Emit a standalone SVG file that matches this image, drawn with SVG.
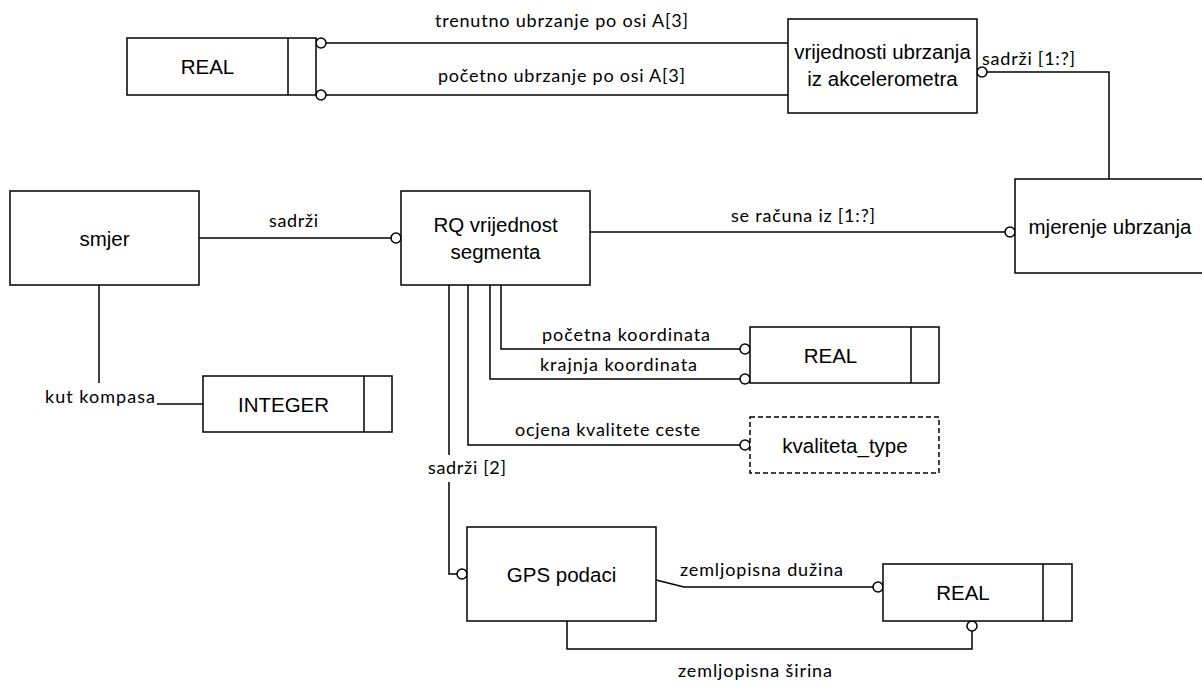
<svg xmlns="http://www.w3.org/2000/svg" width="1202" height="686" viewBox="0 0 1202 686">
<style>
.box{fill:#fff;stroke:#000;stroke-width:1.5}
.dash{fill:#fff;stroke:#000;stroke-width:1.5;stroke-dasharray:5 3}
.ln{fill:none;stroke:#000;stroke-width:1.5}
.o{fill:#fff;stroke:#000;stroke-width:1.5}
.nt{font-family:"Liberation Sans",Arial,sans-serif;font-size:20.5px;fill:#000;text-anchor:middle}
.lb{font-family:Lato,"Liberation Sans",sans-serif;font-size:18px;fill:#000}
</style>
<rect width="1202" height="686" fill="#fff"/>
<g id="connectors">
  <path class="ln" d="M326,43 H788"/>
  <path class="ln" d="M326,95 H788"/>
  <path class="ln" d="M987,72 H1109 V179"/>
  <path class="ln" d="M199,238 H391"/>
  <path class="ln" d="M590,232 H1005"/>
  <path class="ln" d="M99,285 V383"/>
  <path class="ln" d="M157,404 H203"/>
  <path class="ln" d="M501,285 V349 H740"/>
  <path class="ln" d="M490,285 V379 H740"/>
  <path class="ln" d="M468,285 V445 H740"/>
  <path class="ln" d="M449,285 V455 M449,482 V574 H457"/>
  <path class="ln" d="M656,580 L684,587 H873"/>
  <path class="ln" d="M567,621 V649 H972 V631"/>
  <circle class="o" cx="321" cy="43" r="5"/>
  <circle class="o" cx="321" cy="95" r="5"/>
  <circle class="o" cx="982" cy="72" r="5"/>
  <circle class="o" cx="396" cy="238" r="5"/>
  <circle class="o" cx="1010" cy="232" r="5"/>
  <circle class="o" cx="745" cy="349" r="5"/>
  <circle class="o" cx="745" cy="379" r="5"/>
  <circle class="o" cx="745" cy="445" r="5"/>
  <circle class="o" cx="462" cy="574" r="5"/>
  <circle class="o" cx="878" cy="587" r="5"/>
  <circle class="o" cx="972" cy="626" r="5"/>
  <text class="lb" x="435" y="27" textLength="253" lengthAdjust="spacing">trenutno ubrzanje po osi A[3]</text>
  <text class="lb" x="438" y="82" textLength="247" lengthAdjust="spacing">početno ubrzanje po osi A[3]</text>
  <text class="lb" x="982" y="65" textLength="93" lengthAdjust="spacing">sadrži [1:?]</text>
  <text class="lb" x="269" y="227" textLength="49" lengthAdjust="spacing">sadrži</text>
  <text class="lb" x="731" y="222" textLength="144" lengthAdjust="spacing">se računa iz [1:?]</text>
  <text class="lb" x="45" y="403" textLength="110" lengthAdjust="spacing">kut kompasa</text>
  <text class="lb" x="542" y="341" textLength="168" lengthAdjust="spacing">početna koordinata</text>
  <text class="lb" x="540" y="371" textLength="157" lengthAdjust="spacing">krajnja koordinata</text>
  <text class="lb" x="515" y="436" textLength="185" lengthAdjust="spacing">ocjena kvalitete ceste</text>
  <text class="lb" x="428" y="474" textLength="78" lengthAdjust="spacing">sadrži [2]</text>
  <text class="lb" x="680" y="576" textLength="163" lengthAdjust="spacing">zemljopisna dužina</text>
  <text class="lb" x="678" y="677" textLength="154" lengthAdjust="spacing">zemljopisna širina</text>
</g>
<g id="real-top">
  <rect class="box" x="127" y="38" width="189" height="57"/>
  <line class="ln" x1="288" y1="38" x2="288" y2="95"/>
  <text class="nt" x="207.5" y="74">REAL</text>
</g>
<g id="vrijednosti">
  <rect class="box" x="788" y="19" width="189" height="94"/>
  <text class="nt" x="882.5" y="59">vrijednosti ubrzanja</text>
  <text class="nt" x="882.5" y="86">iz akcelerometra</text>
</g>
<g id="smjer">
  <rect class="box" x="10" y="191" width="189" height="94"/>
  <text class="nt" x="104.5" y="245.5">smjer</text>
</g>
<g id="rq">
  <rect class="box" x="401" y="191" width="189" height="94"/>
  <text class="nt" x="495.5" y="232">RQ vrijednost</text>
  <text class="nt" x="495.5" y="259">segmenta</text>
</g>
<g id="mjerenje">
  <rect class="box" x="1015" y="179" width="189" height="94"/>
  <text class="nt" x="1110" y="234">mjerenje ubrzanja</text>
</g>
<g id="integer">
  <rect class="box" x="203" y="376" width="189" height="56"/>
  <line class="ln" x1="364" y1="376" x2="364" y2="432"/>
  <text class="nt" x="283.5" y="411.5">INTEGER</text>
</g>
<g id="real-mid">
  <rect class="box" x="750" y="327" width="189" height="56"/>
  <line class="ln" x1="911" y1="327" x2="911" y2="383"/>
  <text class="nt" x="830.5" y="362.5">REAL</text>
</g>
<g id="kvaliteta">
  <rect class="dash" x="750" y="417" width="189" height="56"/>
  <text class="nt" x="845" y="452.5">kvaliteta_type</text>
</g>
<g id="gps">
  <rect class="box" x="467" y="527" width="189" height="94"/>
  <text class="nt" x="561.5" y="582">GPS podaci</text>
</g>
<g id="real-bottom">
  <rect class="box" x="883" y="564" width="189" height="57"/>
  <line class="ln" x1="1043" y1="564" x2="1043" y2="621"/>
  <text class="nt" x="963" y="600">REAL</text>
</g>
</svg>
